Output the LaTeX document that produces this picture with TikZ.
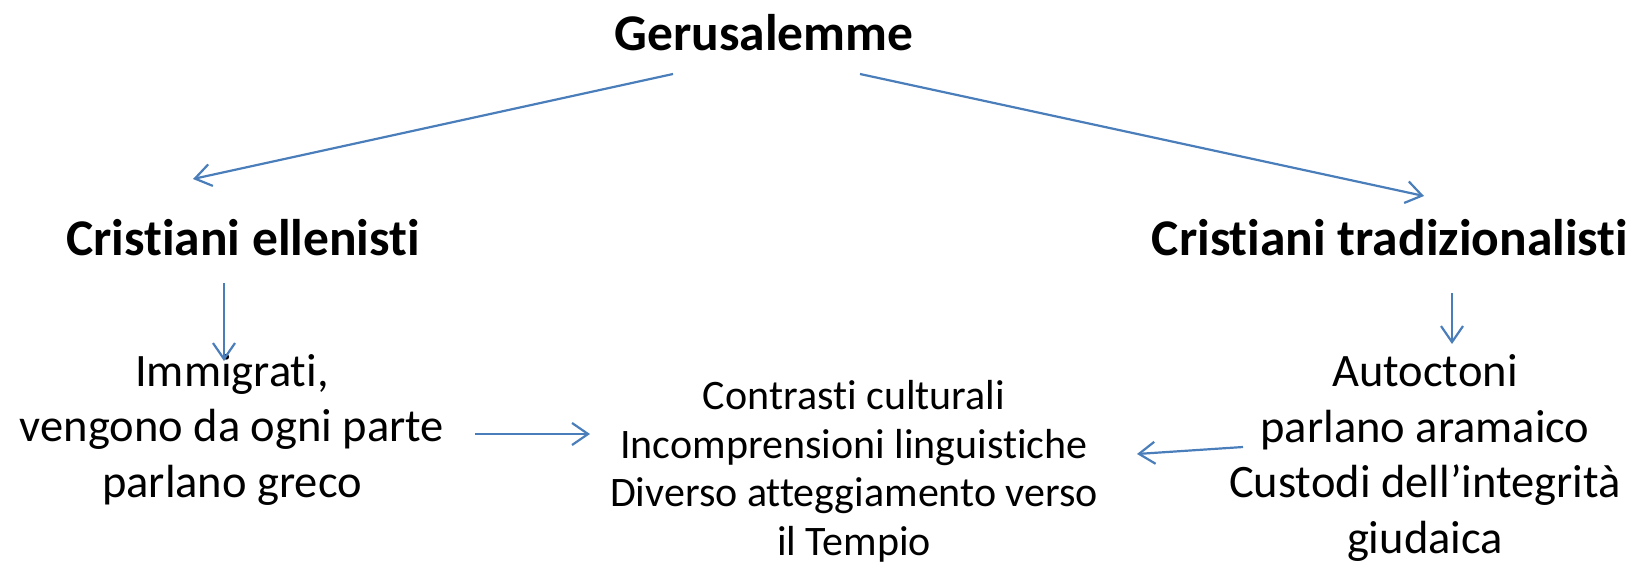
\documentclass[tikz,border=0pt]{standalone}
\usepackage{fontspec}
\setmainfont{Carlito}[Ligatures=NoCommon]
\usetikzlibrary{arrows.meta}
\definecolor{arrowblue}{RGB}{74,126,187}
\tikzset{
  conn/.style={draw=arrowblue, line width=2.2pt, -{Straight Barb[length=16pt,width=22pt,line width=2.2pt]}},
  headtext/.style={inner sep=0pt, anchor=base, font=\fontsize{51.5}{60}\selectfont\bfseries},
  bodytext/.style={inner sep=0pt, anchor=base, align=center, font=\fontsize{46.5}{55.5}\selectfont},
  midtext/.style={inner sep=0pt, anchor=base, align=center, font=\fontsize{42}{48.5}\selectfont}
}
\begin{document}
\begin{tikzpicture}[x=1pt,y=-1pt]
\useasboundingbox (0,0) rectangle (1648,568);
\node[headtext] (title) at (764,50) {Gerusalemme};
\node[headtext] (ell) at (243,255) {Cristiani ellenisti};
\node[headtext] (trad) at (1390,255) {Cristiani tradizionalisti};
% multi-line nodes: base anchor = baseline of the last line
\node[bodytext] (left) at (232,497) {Immigrati,\\vengono da ogni parte\\parlano greco};
\node[midtext] (mid) at (854,555) {Contrasti culturali\\Incomprensioni linguistiche\\Diverso atteggiamento verso\\il Tempio};
\node[bodytext] (right) at (1425,553) {Autoctoni\\parlano aramaico\\Custodi dell’integrità\\giudaica};
\coordinate (a1s) at (673,74);
\coordinate (a1e) at (193,179);
\coordinate (a2s) at (860,74);
\coordinate (a2e) at (1424,196);
\coordinate (a3s) at (224,283);
\coordinate (a3e) at (224,361);
\coordinate (a4s) at (1452,293);
\coordinate (a4e) at (1452,344);
\coordinate (a5s) at (475,434);
\coordinate (a5e) at (590,434);
\coordinate (a6s) at (1243,447);
\coordinate (a6e) at (1137,454);
\draw[conn] (a1s) -- (a1e);
\draw[conn] (a2s) -- (a2e);
\draw[conn] (a3s) -- (a3e);
\draw[conn] (a4s) -- (a4e);
\draw[conn] (a5s) -- (a5e);
\draw[conn] (a6s) -- (a6e);
\end{tikzpicture}
\end{document}
